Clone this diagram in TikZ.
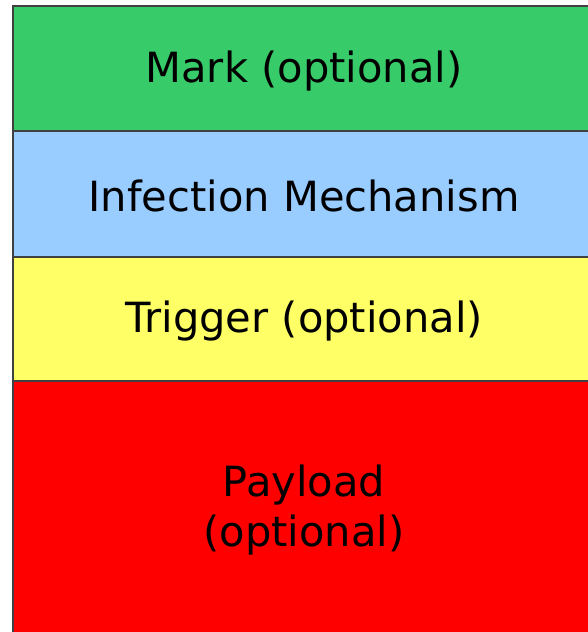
\documentclass[tikz,border=0pt]{standalone}
\usepackage{fontspec}
\setmainfont{DejaVu Sans}
\begin{document}
\begin{tikzpicture}[x=1pt,y=1pt,
  band/.style={draw=black!75, line width=2pt, minimum width=582pt,
    inner sep=0pt, anchor=north west, align=center,
    font=\fontsize{41.6}{50}\selectfont, text=black},
  label text/.style={anchor=center, inner sep=0pt, align=center,
    font=\fontsize{41.6}{50}\selectfont, text=black},
]
\useasboundingbox (0,0) rectangle (587,632);
% coloured bands, top to bottom
\node[band, fill={rgb,255:red,55;green,203;blue,106}, minimum height=125pt] (mark) at (12,627) {};
\node[band, fill={rgb,255:red,153;green,204;blue,255}, minimum height=126pt] (infect) at (12,502) {};
\node[band, fill={rgb,255:red,255;green,255;blue,102}, minimum height=124pt] (trigger) at (12,376) {};
\node[band, fill={rgb,255:red,255;green,0;blue,0}, minimum height=253pt] (payload) at (12,252) {};
% band titles
\node[label text] (markt) at ([yshift=-3pt]mark.center) {Mark (optional)};
\node[label text] (infectt) at ([yshift=-2pt]infect.center) {Infection Mechanism};
\node[label text] (triggert) at ([yshift=-2pt]trigger.center) {Trigger (optional)};
\node[label text] (payloadt) at ([yshift=-3pt]payload.center) {Payload\\(optional)};
\end{tikzpicture}
\end{document}
